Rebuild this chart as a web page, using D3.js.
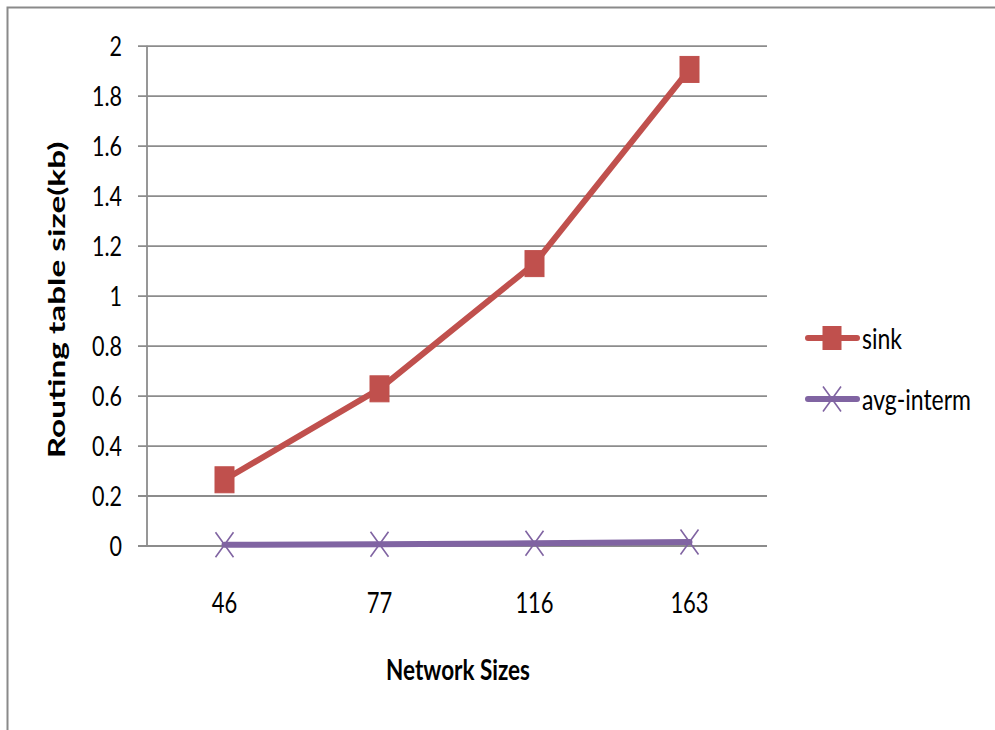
<!DOCTYPE html>
<html>
<head>
<meta charset="utf-8">
<script src="https://cdn.jsdelivr.net/npm/d3@7"></script>
<style>
  html, body { margin: 0; padding: 0; background: #ffffff; }
  svg { display: block; }
  text { font-family: Lato, "Open Sans", "DejaVu Sans", sans-serif; fill: #000; }
</style>
</head>
<body>
<svg id="chart" width="995" height="730"></svg>
<script>
// Network sizes (categories) and routing table sizes in kb
const categories = ["46", "77", "116", "163"];
const sinkValues = [0.263, 0.627, 1.128, 1.905];
const avgIntermValues = [0.003, 0.005, 0.009, 0.014];
const yTickValues = [0, 0.2, 0.4, 0.6, 0.8, 1, 1.2, 1.4, 1.6, 1.8, 2];
const seriesNames = ["sink", "avg-interm"];

const series = [
  { name: seriesNames[0], values: sinkValues, color: "#C0504D", marker: "square" },
  { name: seriesNames[1], values: avgIntermValues, color: "#8064A2", marker: "cross" }
];

const svg = d3.select("#chart");
const gridColor = "#8c8c8c";
const textStretch = 1.27;

// Outer chart frame (top and left edges)
svg.append("path")
  .attr("d", "M7.5,730 L7.5,7.5 L995,7.5")
  .attr("fill", "none")
  .attr("stroke", "#8a8a8a")
  .attr("stroke-width", 2);

const plot = { left: 147, right: 767, top: 45.7, bottom: 545.5 };

const x = d3.scalePoint()
  .domain(categories)
  .range([plot.left, plot.right])
  .padding(0.5);

const y = d3.scaleLinear()
  .domain([0, 2])
  .range([plot.bottom, plot.top]);

// Horizontal gridlines with short ticks to the left of the axis
const yAxis = d3.axisLeft(y)
  .tickValues(yTickValues)
  .tickSize(-(plot.right - plot.left))
  .tickFormat(() => "");

const gy = svg.append("g")
  .attr("transform", `translate(${plot.left},0)`)
  .call(yAxis);
gy.select(".domain").remove();
gy.selectAll(".tick line")
  .attr("x1", -9)
  .attr("stroke", gridColor)
  .attr("stroke-width", 1.8);

// Vertical value axis line
svg.append("line")
  .attr("x1", plot.left).attr("x2", plot.left)
  .attr("y1", y(2)).attr("y2", y(0))
  .attr("stroke", gridColor)
  .attr("stroke-width", 1.8);

// Helper for vertically stretched labels
function stretchedText(parent, tx, ty, str, opts) {
  const g = parent.append("g")
    .attr("transform", `translate(${tx},${ty}) scale(1,${textStretch})`);
  return g.append("text")
    .attr("x", 0).attr("y", 0)
    .attr("text-anchor", opts.anchor || "start")
    .attr("dominant-baseline", opts.baseline || "alphabetic")
    .attr("font-size", opts.size)
    .attr("font-weight", opts.weight || "normal")
    .text(str);
}

// Y tick labels
yTickValues.forEach(v => {
  stretchedText(svg, 122, y(v), d3.format("")(v), { anchor: "end", baseline: "central", size: 21.5 });
});

// X tick labels
categories.forEach(c => {
  stretchedText(svg, x(c), 602, c, { anchor: "middle", baseline: "central", size: 22 });
});

// Axis titles
stretchedText(svg, 458, 680, "Network Sizes", { anchor: "middle", size: 22.5, weight: "bold" });

svg.append("g")
  .attr("transform", "translate(65,300) rotate(-90) scale(1.45,1)")
  .append("text")
  .attr("text-anchor", "middle")
  .attr("font-size", 23)
  .attr("font-weight", "bold")
  .text("Routing table size(kb)");

// Series lines and markers
const line = d3.line()
  .x((d, i) => x(categories[i]))
  .y(d => y(d));

function drawMarker(g, type, color, cx, cy, w, h) {
  if (type === "square") {
    g.append("rect")
      .attr("x", cx - w / 2).attr("y", cy - h / 2)
      .attr("width", w).attr("height", h)
      .attr("fill", color)
      .attr("stroke", color)
      .attr("stroke-width", 1);
  } else {
    g.append("path")
      .attr("d", `M${cx - w / 2},${cy - h / 2} L${cx + w / 2},${cy + h / 2} M${cx - w / 2},${cy + h / 2} L${cx + w / 2},${cy - h / 2}`)
      .attr("stroke", color)
      .attr("stroke-width", 1.6)
      .attr("fill", "none");
  }
}

series.forEach(s => {
  const g = svg.append("g");
  g.append("path")
    .datum(s.values)
    .attr("d", line)
    .attr("fill", "none")
    .attr("stroke", s.color)
    .attr("stroke-width", 6)
    .attr("stroke-linejoin", "round")
    .attr("stroke-linecap", "round");
  s.values.forEach((v, i) => {
    drawMarker(g, s.marker, s.color, x(categories[i]), y(v), s.marker === "square" ? 19 : 18, s.marker === "square" ? 26 : 25);
  });
});

// Legend
const legendY = [338, 399];
series.forEach((s, i) => {
  const g = svg.append("g");
  g.append("line")
    .attr("x1", 808).attr("x2", 857)
    .attr("y1", legendY[i]).attr("y2", legendY[i])
    .attr("stroke", s.color)
    .attr("stroke-width", 6)
    .attr("stroke-linecap", "round");
  drawMarker(g, s.marker, s.color, 832, legendY[i], 18, s.marker === "square" ? 23 : 25);
  stretchedText(svg, 862, legendY[i], s.name, { anchor: "start", baseline: "central", size: 23 });
});
</script>
</body>
</html>
